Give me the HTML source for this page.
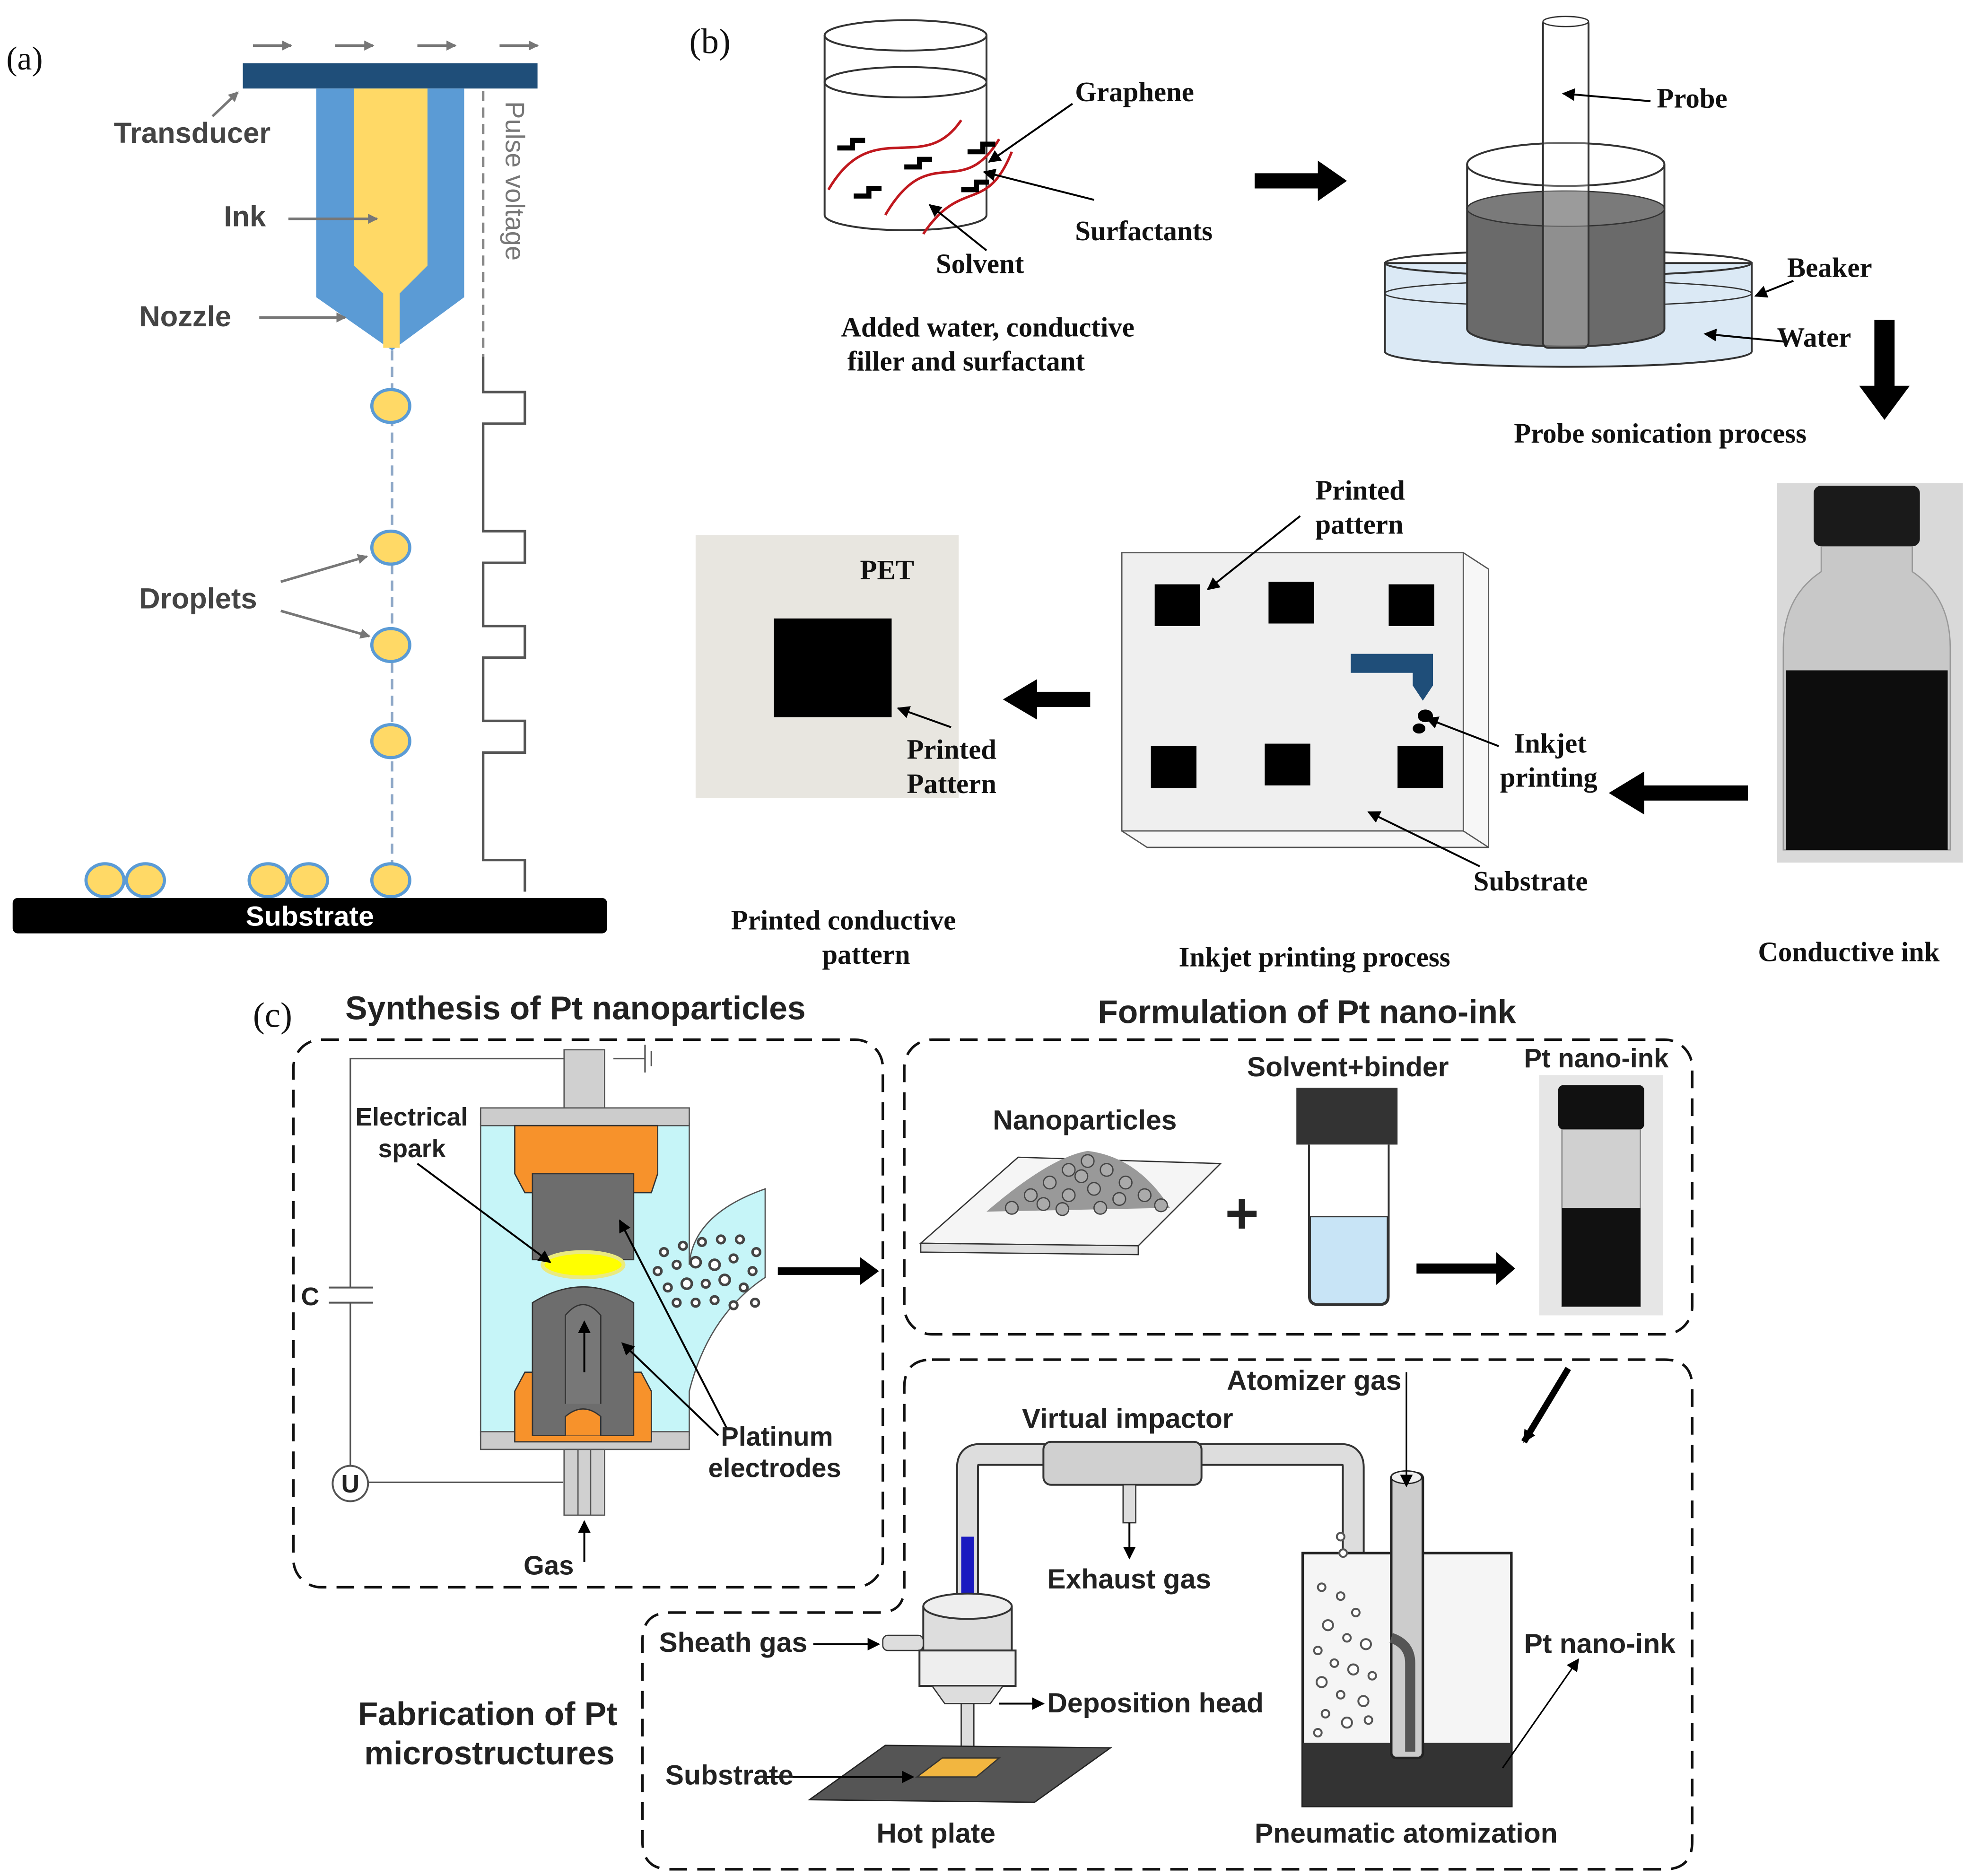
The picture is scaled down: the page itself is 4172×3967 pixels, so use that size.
<!DOCTYPE html>
<html><head><meta charset="utf-8"><style>
html,body{margin:0;padding:0;background:#fff}
svg{display:block}
.s{font-family:"Liberation Sans",sans-serif;font-weight:bold;fill:#222}
.r{font-family:"Liberation Serif",serif;font-weight:bold;fill:#111}
.g{font-family:"Liberation Sans",sans-serif;font-weight:bold;fill:#444}
</style></head><body>
<svg width="4172" height="3967" viewBox="0 0 1560 1483.3" preserveAspectRatio="none" xmlns="http://www.w3.org/2000/svg">
<defs>
<marker id="ag" markerWidth="8" markerHeight="8" refX="7" refY="4" orient="auto" markerUnits="userSpaceOnUse"><path d="M0,0 L8,4 L0,8z" fill="#777"/></marker>
<marker id="ab" markerWidth="10" markerHeight="10" refX="9" refY="5" orient="auto" markerUnits="userSpaceOnUse"><path d="M0,0 L10,5 L0,10z" fill="#000"/></marker>
</defs>
<rect width="1560" height="1483.3" fill="#fff"/>
<!-- Panel a -->
<text x="5" y="55" font-family="Liberation Serif" font-size="26" fill="#111">(a)</text>
<g stroke="#777" stroke-width="2" marker-end="url(#ag)">
<line x1="200" y1="36" x2="230" y2="36"/><line x1="265" y1="36" x2="295" y2="36"/><line x1="330" y1="36" x2="360" y2="36"/><line x1="395" y1="36" x2="425" y2="36"/>
</g>
<rect x="192" y="50" width="233" height="20" fill="#1f4e79"/>
<polygon points="250,70 367,70 367,235 310,277 250,235" fill="#5b9bd5"/>
<polygon points="280,70 338,70 338,210 316,232 316,275 303,275 303,232 280,210" fill="#ffd966"/>
<line x1="310" y1="277" x2="310" y2="685" stroke="#8fa8c8" stroke-width="2" stroke-dasharray="8,5"/>
<line x1="382" y1="72" x2="382" y2="282" stroke="#888" stroke-width="2" stroke-dasharray="8,5"/>
<text transform="translate(400,80) rotate(90)" font-family="Liberation Sans" font-size="21" fill="#777">Pulse voltage</text>
<path d="M382,282 V310 H415 V335 H382 V420 H415 V445 H382 V495 H415 V520 H382 V570 H415 V595 H382 V680 H415 V705" fill="none" stroke="#555" stroke-width="2"/>
<g fill="#ffd966" stroke="#5b9bd5" stroke-width="2.5">
<ellipse cx="309" cy="321" rx="15" ry="13"/><ellipse cx="309" cy="433" rx="15" ry="13"/><ellipse cx="309" cy="510" rx="15" ry="13"/><ellipse cx="309" cy="586" rx="15" ry="13"/>
<ellipse cx="83" cy="696" rx="15" ry="13"/><ellipse cx="115" cy="696" rx="15" ry="13"/><ellipse cx="212" cy="696" rx="15" ry="13"/><ellipse cx="244" cy="696" rx="15" ry="13"/><ellipse cx="309" cy="696" rx="15" ry="13"/>
</g>
<rect x="10" y="710" width="470" height="28" rx="4" fill="#000"/>
<text x="245" y="732" text-anchor="middle" font-family="Liberation Sans" font-weight="bold" font-size="22" fill="#fff">Substrate</text>
<text x="90" y="113" class="g" font-size="23">Transducer</text>
<text x="177" y="179" class="g" font-size="23">Ink</text>
<text x="110" y="258" class="g" font-size="23">Nozzle</text>
<text x="110" y="481" class="g" font-size="23">Droplets</text>
<g stroke="#777" stroke-width="2" marker-end="url(#ag)">
<line x1="168" y1="92" x2="188" y2="73"/><line x1="228" y1="173" x2="298" y2="173"/><line x1="205" y1="251" x2="273" y2="251"/>
<line x1="222" y1="460" x2="290" y2="440"/><line x1="222" y1="483" x2="292" y2="503"/>
</g>
<!-- Panel b -->
<text x="545" y="42" font-family="Liberation Serif" font-size="28" fill="#111">(b)</text>
<g fill="none" stroke="#333" stroke-width="1.5">
<ellipse cx="716" cy="28" rx="64" ry="12" fill="#fff"/>
<path d="M652,28 V170 A64,12 0 0 0 780,170 V28"/>
<ellipse cx="716" cy="65" rx="64" ry="12"/>
</g>
<g fill="none" stroke="#c0181e" stroke-width="2">
<path d="M655,150 C690,90 730,140 760,95"/><path d="M700,170 C735,110 760,160 790,110"/><path d="M730,185 C760,140 780,170 800,120"/>
</g>
<g fill="none" stroke="#000" stroke-width="4">
<path d="M662,117 h12 v-6 h10"/><path d="M715,132 h12 v-6 h10"/><path d="M765,120 h12 v-6 h10"/><path d="M675,155 h12 v-6 h10"/><path d="M760,150 h12 v-6 h10"/>
</g>
<text x="850" y="80" class="r" font-size="22">Graphene</text>
<text x="850" y="190" class="r" font-size="22">Surfactants</text>
<text x="740" y="216" class="r" font-size="22">Solvent</text>
<text x="665" y="266" class="r" font-size="22">Added water, conductive</text>
<text x="670" y="293" class="r" font-size="22">filler and surfactant</text>
<polygon points="992,137 1042,137 1042,127 1065,143 1042,159 1042,149 992,149" fill="#000"/>
<!-- sonication -->
<path d="M1095,208 V278 A145,12 0 0 0 1385,278 V208 Z" fill="#dbe9f5" stroke="#333" stroke-width="1.5"/>
<ellipse cx="1240" cy="208" rx="145" ry="10" fill="none" stroke="#333" stroke-width="1.5"/>
<ellipse cx="1240" cy="232" rx="145" ry="10" fill="none" stroke="#333" stroke-width="1"/>
<path d="M1160,165 V260 A78,14 0 0 0 1316,260 V165 Z" fill="#6a6a6a" stroke="#333" stroke-width="1.5"/>
<ellipse cx="1238" cy="165" rx="78" ry="14" fill="#7a7a7a" stroke="#333"/>
<path d="M1160,130 V165 M1316,130 V165" stroke="#333" stroke-width="1.5"/>
<ellipse cx="1238" cy="130" rx="78" ry="17" fill="none" stroke="#333" stroke-width="1.5"/>
<rect x="1220" y="15" width="36" height="260" rx="4" fill="#fff" fill-opacity=".25" stroke="#333" stroke-width="1.5"/>
<ellipse cx="1238" cy="17" rx="18" ry="4" fill="#fff" stroke="#333"/>
<text x="1310" y="85" class="r" font-size="22">Probe</text>
<text x="1413" y="219" class="r" font-size="22">Beaker</text>
<text x="1405" y="274" class="r" font-size="22">Water</text>
<text x="1197" y="350" class="r" font-size="22">Probe sonication process</text>
<polygon points="1482,253 1498,253 1498,305 1510,305 1490,332 1470,305 1482,305" fill="#000"/>
<!-- bottle photo -->
<rect x="1405" y="382" width="147" height="300" fill="#d9d9d9"/>
<rect x="1434" y="384" width="84" height="48" rx="6" fill="#1a1a1a"/>
<path d="M1440,432 h72 v20 q30,20 30,60 v160 h-132 v-160 q0,-40 30,-60z" fill="#c8c8c8" stroke="#999"/>
<path d="M1412,530 h128 v142 h-128z" fill="#0d0d0d"/>
<text x="1390" y="760" class="r" font-size="22">Conductive ink</text>
<polygon points="1382,621 1300,621 1300,610 1272,627 1300,644 1300,633 1382,633" fill="#000"/>
<!-- substrate -->
<polygon points="887,437 1157,437 1177,450 1177,670 907,670 887,657" fill="#f7f7f7" stroke="#555"/>
<rect x="887" y="437" width="270" height="220" fill="#efefef" stroke="#555"/>
<line x1="1157" y1="657" x2="1177" y2="670" stroke="#555"/>
<g fill="#000">
<rect x="913" y="462" width="36" height="33"/><rect x="1003" y="460" width="36" height="33"/><rect x="1098" y="462" width="36" height="33"/>
<rect x="910" y="590" width="36" height="33"/><rect x="1000" y="588" width="36" height="33"/><rect x="1105" y="590" width="36" height="33"/>
<ellipse cx="1127" cy="566" rx="6" ry="5"/><ellipse cx="1122" cy="576" rx="5" ry="4"/>
</g>
<path d="M1068,517 h65 v25 l-8,12 l-8,-12 v-10 h-49z" fill="#1f4e79"/>
<text x="1040" y="395" class="r" font-size="22">Printed</text>
<text x="1040" y="422" class="r" font-size="22">pattern</text>
<text x="1197" y="595" class="r" font-size="22">Inkjet</text>
<text x="1186" y="622" class="r" font-size="22">printing</text>
<text x="1165" y="704" class="r" font-size="22">Substrate</text>
<text x="932" y="764" class="r" font-size="22">Inkjet printing process</text>
<polygon points="862,547 820,547 820,537 793,553 820,569 820,559 862,559" fill="#000"/>
<rect x="550" y="423" width="208" height="208" fill="#e8e6e0"/>
<rect x="612" y="489" width="93" height="78" fill="#000"/>
<text x="680" y="458" class="r" font-size="22">PET</text>
<text x="717" y="600" class="r" font-size="22">Printed</text>
<text x="717" y="627" class="r" font-size="22">Pattern</text>
<text x="578" y="735" class="r" font-size="22">Printed conductive</text>
<text x="650" y="762" class="r" font-size="22">pattern</text>
<g stroke="#000" stroke-width="1.5" marker-end="url(#ab)">
<line x1="848" y1="82" x2="782" y2="128"/><line x1="865" y1="158" x2="778" y2="136"/><line x1="780" y1="198" x2="735" y2="162"/>
<line x1="1305" y1="80" x2="1236" y2="74"/><line x1="1418" y1="222" x2="1388" y2="234"/><line x1="1410" y1="270" x2="1348" y2="264"/>
<line x1="1028" y1="408" x2="955" y2="466"/><line x1="1185" y1="590" x2="1128" y2="568"/><line x1="1170" y1="685" x2="1082" y2="642"/>
<line x1="752" y1="575" x2="710" y2="560"/>
</g>
<!-- Panel c -->
<text x="200" y="812" font-family="Liberation Serif" font-size="28" fill="#111">(c)</text>
<text x="273" y="806" class="s" font-size="26">Synthesis of Pt nanoparticles</text>
<text x="868" y="809" class="s" font-size="26">Formulation of Pt nano-ink</text>
<g fill="none" stroke="#111" stroke-width="2" stroke-dasharray="14,8">
<rect x="232" y="822" width="466" height="433" rx="22"/>
<rect x="715" y="822" width="623" height="233" rx="22"/>
<path d="M737,1075 H1316 Q1338,1075 1338,1097 V1456 Q1338,1478 1316,1478 H530 Q508,1478 508,1456 V1297 Q508,1275 530,1275 H695 Q715,1275 715,1255 V1097 Q715,1075 737,1075"/>
</g>
<!-- synthesis drawing -->
<g stroke="#555" stroke-width="1.2" fill="none">
<path d="M462,837 H277 V1172 M291,1172 H445 M485,837 H510 M510,826 V848 M515,831 V843"/>
</g>
<rect x="270" y="1018" width="14" height="12" fill="#fff"/>
<line x1="260" y1="1018" x2="295" y2="1018" stroke="#555" stroke-width="1.5"/><line x1="260" y1="1030" x2="295" y2="1030" stroke="#555" stroke-width="1.5"/>
<circle cx="277" cy="1173" r="14" fill="#fff" stroke="#555" stroke-width="1.5"/>
<text x="277" y="1180" text-anchor="middle" class="s" font-size="20">U</text>
<text x="238" y="1032" class="s" font-size="20">C</text>
<rect x="446" y="830" width="32" height="58" fill="#d0d0d0" stroke="#555"/>
<path d="M380,888 H545 V1000 Q548,960 605,940 V1010 Q560,1040 545,1100 V1135 H380 Z" fill="#c6f5f8" stroke="#555"/>
<rect x="380" y="876" width="165" height="14" fill="#ccc" stroke="#555"/>
<rect x="380" y="1132" width="165" height="14" fill="#ccc" stroke="#555"/>
<path d="M407,890 h113 v38 l-5,15 h-100 l-8,-15z" fill="#f7922b" stroke="#333"/>
<rect x="421" y="928" width="80" height="68" fill="#6d6d6d" stroke="#333"/>
<ellipse cx="461" cy="1000" rx="32" ry="10" fill="#ffff00" stroke="#eaea80" stroke-width="3"/>
<path d="M421,1135 V1030 Q461,1005 501,1030 V1135z" fill="#6d6d6d" stroke="#333"/>
<path d="M447,1110 V1040 Q461,1023 475,1040 V1110" fill="#777" stroke="#333"/>
<path d="M407,1140 v-40 l8,-15 h6 v50 h80 v-50 h6 l8,15 v40z" fill="#f7922b" stroke="#333"/>
<path d="M447,1135 v-15 q14,-12 28,0 v15" fill="#f7922b" stroke="#333"/>
<rect x="446" y="1146" width="32" height="52" fill="#d0d0d0" stroke="#555"/>
<line x1="457" y1="1146" x2="457" y2="1198" stroke="#555"/><line x1="467" y1="1146" x2="467" y2="1198" stroke="#555"/>
<g fill="#fff" stroke="#444" stroke-width="2">
<circle cx="525" cy="990" r="3"/><circle cx="540" cy="985" r="3"/><circle cx="555" cy="982" r="3"/><circle cx="570" cy="980" r="3"/><circle cx="585" cy="980" r="3"/><circle cx="598" cy="990" r="3"/>
<circle cx="520" cy="1005" r="3"/><circle cx="535" cy="1000" r="3"/><circle cx="550" cy="998" r="4"/><circle cx="565" cy="1000" r="4"/><circle cx="580" cy="995" r="3"/><circle cx="595" cy="1005" r="3"/>
<circle cx="528" cy="1018" r="3"/><circle cx="543" cy="1015" r="4"/><circle cx="558" cy="1015" r="3"/><circle cx="573" cy="1012" r="4"/><circle cx="588" cy="1018" r="3"/>
<circle cx="535" cy="1030" r="3"/><circle cx="550" cy="1030" r="3"/><circle cx="565" cy="1028" r="3"/><circle cx="580" cy="1032" r="3"/><circle cx="597" cy="1030" r="3"/>
</g>
<g stroke="#000" stroke-width="1.5" marker-end="url(#ab)">
<line x1="330" y1="920" x2="435" y2="998"/><line x1="575" y1="1130" x2="490" y2="965"/><line x1="568" y1="1135" x2="492" y2="1062"/>
<line x1="462" y1="1235" x2="462" y2="1203"/><line x1="462" y1="1085" x2="462" y2="1045"/>
</g>
<text x="281" y="890" class="s" font-size="20">Electrical</text>
<text x="299" y="915" class="s" font-size="20">spark</text>
<text x="570" y="1143" class="s" font-size="21">Platinum</text>
<text x="560" y="1168" class="s" font-size="21">electrodes</text>
<text x="414" y="1245" class="s" font-size="21">Gas</text>
<polygon points="615,1002 680,1002 680,994 695,1005 680,1016 680,1008 615,1008" fill="#000"/>
<!-- formulation -->
<polygon points="728,983 805,915 965,920 900,985" fill="#f5f5f5" stroke="#333"/>
<polygon points="728,983 900,985 900,992 728,990" fill="#e0e0e0" stroke="#333"/>
<path d="M780,958 Q830,915 860,910 Q900,915 925,955z" fill="#999"/>
<g fill="#aaa" stroke="#444" stroke-width="1">
<circle cx="800" cy="955" r="5"/><circle cx="815" cy="945" r="5"/><circle cx="830" cy="935" r="5"/><circle cx="845" cy="925" r="5"/><circle cx="860" cy="918" r="5"/><circle cx="875" cy="925" r="5"/><circle cx="890" cy="935" r="5"/><circle cx="905" cy="945" r="5"/><circle cx="918" cy="953" r="5"/>
<circle cx="825" cy="952" r="5"/><circle cx="845" cy="945" r="5"/><circle cx="865" cy="940" r="5"/><circle cx="885" cy="948" r="5"/><circle cx="855" cy="930" r="5"/><circle cx="870" cy="955" r="5"/><circle cx="840" cy="956" r="5"/>
</g>
<text x="785" y="893" class="s" font-size="22">Nanoparticles</text>
<text x="982" y="975" class="s" font-size="46" text-anchor="middle">+</text>
<text x="986" y="851" class="s" font-size="22">Solvent+binder</text>
<rect x="1025" y="860" width="80" height="45" fill="#333"/>
<path d="M1035,905 V1025 Q1035,1032 1043,1032 H1090 Q1098,1032 1098,1025 V905" fill="#fff" stroke="#333" stroke-width="1.5"/>
<path d="M1036,962 H1097 V1025 Q1097,1031 1090,1031 H1043 Q1036,1031 1036,1025z" fill="#c8e4f6" stroke="#333"/>
<polygon points="1120,999 1183,999 1183,990 1198,1003 1183,1016 1183,1007 1120,1007" fill="#000"/>
<text x="1205" y="844" class="s" font-size="21">Pt nano-ink</text>
<rect x="1217" y="850" width="98" height="190" fill="#e6e6e6"/>
<rect x="1232" y="858" width="68" height="35" rx="4" fill="#111"/>
<path d="M1235,893 h62 v140 h-62z" fill="#d0d0d0" stroke="#888"/>
<rect x="1235" y="955" width="62" height="78" fill="#111"/>
<line x1="1240" y1="1082" x2="1205" y2="1140" stroke="#000" stroke-width="5" marker-end="url(#ab)"/>
<!-- fabrication -->
<path d="M765,1270 V1160 Q765,1150 775,1150 H1060 Q1070,1150 1070,1160 V1240" fill="none" stroke="#333" stroke-width="18"/>
<path d="M765,1270 V1160 Q765,1150 775,1150 H1060 Q1070,1150 1070,1160 V1240" fill="none" stroke="#ddd" stroke-width="15"/>
<line x1="765" y1="1215" x2="765" y2="1270" stroke="#1a1ac0" stroke-width="10"/>
<rect x="825" y="1140" width="125" height="34" rx="6" fill="#d0d0d0" stroke="#333" stroke-width="1.5"/>
<rect x="888" y="1174" width="10" height="30" fill="#ddd" stroke="#333"/>
<line x1="893" y1="1204" x2="893" y2="1232" stroke="#000" stroke-width="1.5" marker-end="url(#ab)"/>
<text x="808" y="1129" class="s" font-size="22">Virtual impactor</text>
<text x="828" y="1256" class="s" font-size="22">Exhaust gas</text>
<text x="970" y="1099" class="s" font-size="22">Atomizer gas</text>
<rect x="1030" y="1228" width="165" height="200" fill="#f5f5f5" stroke="#222" stroke-width="2"/>
<rect x="1030" y="1378" width="165" height="50" fill="#333"/>
<rect x="1100" y="1165" width="25" height="225" rx="4" fill="#ccc" stroke="#222" stroke-width="2"/>
<ellipse cx="1112" cy="1168" rx="12" ry="5" fill="#eee" stroke="#222"/>
<path d="M1100,1295 q15,5 15,20 v70" fill="none" stroke="#555" stroke-width="8"/>
<line x1="1112" y1="1085" x2="1112" y2="1175" stroke="#000" stroke-width="1.2" marker-end="url(#ab)"/>
<g fill="#fff" stroke="#555" stroke-width="1.5">
<circle cx="1060" cy="1215" r="3"/><circle cx="1062" cy="1228" r="3"/><circle cx="1045" cy="1255" r="3"/><circle cx="1060" cy="1262" r="3"/><circle cx="1072" cy="1275" r="3"/><circle cx="1050" cy="1285" r="4"/><circle cx="1065" cy="1295" r="3"/><circle cx="1080" cy="1300" r="4"/><circle cx="1042" cy="1305" r="3"/><circle cx="1055" cy="1315" r="3"/><circle cx="1070" cy="1320" r="4"/><circle cx="1085" cy="1325" r="3"/><circle cx="1045" cy="1330" r="4"/><circle cx="1060" cy="1340" r="3"/><circle cx="1078" cy="1345" r="4"/><circle cx="1048" cy="1355" r="3"/><circle cx="1065" cy="1362" r="4"/><circle cx="1082" cy="1360" r="3"/><circle cx="1042" cy="1370" r="3"/>
</g>
<line x1="1188" y1="1398" x2="1248" y2="1312" stroke="#000" stroke-width="1.2" marker-end="url(#ab)"/>
<text x="1205" y="1307" class="s" font-size="22">Pt nano-ink</text>
<text x="992" y="1457" class="s" font-size="22">Pneumatic atomization</text>
<!-- deposition head -->
<path d="M730,1270 V1305 H800 V1270" fill="#ddd" stroke="#333" stroke-width="1.5"/>
<ellipse cx="765" cy="1270" rx="35" ry="10" fill="#eee" stroke="#333" stroke-width="1.5"/>
<rect x="698" y="1293" width="32" height="12" rx="4" fill="#ddd" stroke="#333"/>
<rect x="727" y="1305" width="76" height="28" fill="#eee" stroke="#333" stroke-width="1.5"/>
<path d="M737,1333 h56 l-10,14 h-36z" fill="#ddd" stroke="#333"/>
<rect x="760" y="1347" width="10" height="35" fill="#ddd" stroke="#333"/>
<polygon points="640,1423 700,1380 878,1382 818,1425" fill="#555" stroke="#222"/>
<polygon points="725,1405 745,1390 790,1390 772,1405" fill="#f2b640" stroke="#333"/>
<g stroke="#000" stroke-width="1.5" marker-end="url(#ab)">
<line x1="643" y1="1300" x2="695" y2="1300"/><line x1="790" y1="1347" x2="825" y2="1347"/><line x1="603" y1="1405" x2="722" y2="1405"/>
</g>
<text x="521" y="1306" class="s" font-size="22">Sheath gas</text>
<text x="828" y="1354" class="s" font-size="22">Deposition head</text>
<text x="526" y="1411" class="s" font-size="22">Substrate</text>
<text x="693" y="1457" class="s" font-size="22">Hot plate</text>
<text x="283" y="1364" class="s" font-size="26">Fabrication of Pt</text>
<text x="288" y="1395" class="s" font-size="26">microstructures</text>
</svg>
</body></html>
